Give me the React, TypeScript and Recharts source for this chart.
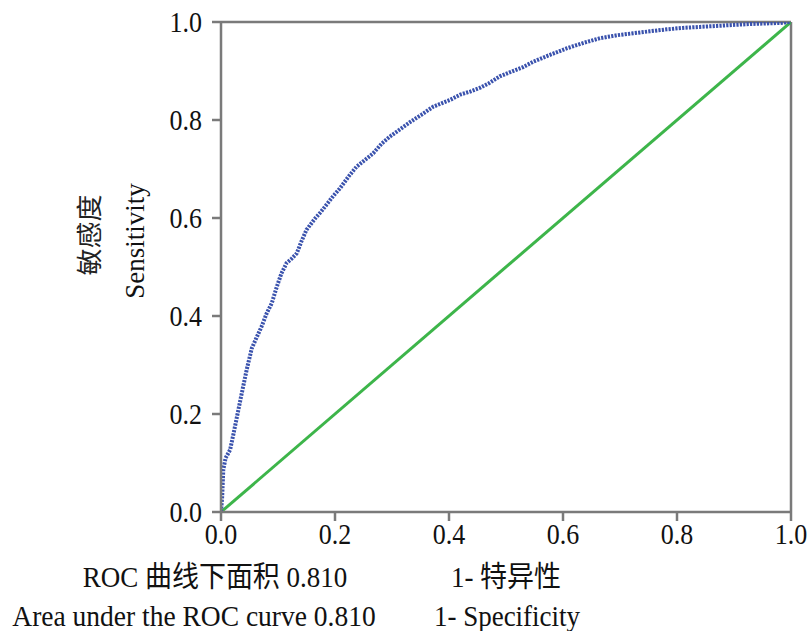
import React from "react";
import { LineChart, Line, XAxis, YAxis, ReferenceLine } from "recharts";

const fpr = [0, 0.002, 0.004, 0.008, 0.016, 0.022, 0.029, 0.036, 0.045, 0.054, 0.062, 0.071, 0.08, 0.089, 0.098, 0.106, 0.115, 0.124, 0.133, 0.141, 0.15, 0.165, 0.175, 0.185, 0.197, 0.209, 0.224, 0.238, 0.252, 0.267, 0.282, 0.296, 0.314, 0.332, 0.352, 0.372, 0.387, 0.402, 0.42, 0.437, 0.455, 0.47, 0.489, 0.51, 0.53, 0.548, 0.575, 0.606, 0.635, 0.665, 0.695, 0.723, 0.752, 0.782, 0.81, 0.84, 0.87, 0.898, 0.93, 0.957, 0.98, 1];
const tpr = [0, 0.03, 0.086, 0.11, 0.127, 0.16, 0.2, 0.24, 0.29, 0.334, 0.355, 0.378, 0.405, 0.426, 0.46, 0.487, 0.508, 0.517, 0.528, 0.552, 0.576, 0.599, 0.612, 0.627, 0.645, 0.661, 0.685, 0.705, 0.718, 0.732, 0.752, 0.766, 0.781, 0.796, 0.811, 0.827, 0.834, 0.841, 0.852, 0.858, 0.866, 0.875, 0.889, 0.899, 0.908, 0.919, 0.932, 0.946, 0.957, 0.967, 0.973, 0.977, 0.981, 0.985, 0.988, 0.99, 0.992, 0.994, 0.996, 0.997, 0.998, 1];
const refX = [0, 1];
const refY = [0, 1];
const ticks = [0, 0.2, 0.4, 0.6, 0.8, 1.0];

const yLabelCn = "敏感度";
const yLabelEn = "Sensitivity";
const aucCn = "ROC 曲线下面积 0.810";
const aucEn = "Area under the ROC curve 0.810";
const xLabelCn = "1- 特异性";
const xLabelEn = "1- Specificity";

const rocData = fpr.map((x, i) => ({ x, y: tpr[i] }));
const diagData = refX.map((x, i) => ({ x, y: refY[i] }));

const AXIS = "#7a7a7a";
const SERIF = "'Liberation Serif', 'Times New Roman', serif";
const CJK = "'Liberation Serif', 'Noto Sans CJK SC', serif";

const XTick = (props: any) => {
  const { x, y, payload } = props;
  return (
    <text
      transform={`translate(${x},${y + 23}) scale(1,1.1)`}
      textAnchor="middle"
      fontFamily={SERIF}
      fontSize={26}
      fill="#111"
    >
      {Number(payload.value).toFixed(1)}
    </text>
  );
};

const YTick = (props: any) => {
  const { x, y, payload } = props;
  return (
    <text
      transform={`translate(${x},${y + 10}) scale(1,1.1)`}
      textAnchor="end"
      fontFamily={SERIF}
      fontSize={26}
      fill="#111"
    >
      {Number(payload.value).toFixed(1)}
    </text>
  );
};

export default function App() {
  return (
    <div style={{ position: "absolute", left: 0, top: 0, width: 809, height: 631, background: "#fff" }}>
      <LineChart width={809} height={631} margin={{ top: 22, right: 18, bottom: 0, left: 0 }}>
        <XAxis
          type="number"
          dataKey="x"
          domain={[0, 1]}
          ticks={ticks}
          height={119}
          stroke={AXIS}
          strokeWidth={2.5}
          tickSize={9}
          tickMargin={0}
          tick={<XTick />}
          allowDataOverflow
        />
        <YAxis
          type="number"
          dataKey="y"
          domain={[0, 1]}
          ticks={ticks}
          width={221}
          stroke={AXIS}
          strokeWidth={2.5}
          tickSize={9}
          tickMargin={10}
          tick={<YTick />}
          allowDataOverflow
        />
        <ReferenceLine y={1} stroke={AXIS} strokeWidth={2.5} />
        <ReferenceLine x={1} stroke={AXIS} strokeWidth={2.5} />
        <Line
          data={diagData}
          dataKey="y"
          type="linear"
          stroke="#3db54a"
          strokeWidth={3}
          dot={false}
          isAnimationActive={false}
        />
        <Line
          data={rocData}
          dataKey="y"
          type="linear"
          stroke="#3a52ad"
          strokeWidth={4}
          strokeDasharray="2.2 1.2"
          dot={false}
          isAnimationActive={false}
        />
      </LineChart>
      <svg
        width={809}
        height={631}
        style={{ position: "absolute", left: 0, top: 0, pointerEvents: "none" }}
      >
        <text
          transform="translate(99,235) rotate(-90) scale(1,0.95)"
          textAnchor="middle"
          fontFamily={CJK}
          fontSize={27}
          fill="#222"
        >
          {yLabelCn}
        </text>
        <text
          transform="translate(144,241) rotate(-90)"
          textAnchor="middle"
          fontFamily={SERIF}
          fontSize={27}
          fill="#111"
        >
          {yLabelEn}
        </text>
        <text transform="translate(215,587) scale(1,1.08)" textAnchor="middle" fontFamily={CJK} fontSize={27} fill="#111">
          {aucCn}
        </text>
        <text transform="translate(506,587) scale(1,1.08)" textAnchor="middle" fontFamily={CJK} fontSize={27} fill="#111">
          {xLabelCn}
        </text>
        <text transform="translate(194,626) scale(1,1.08)" textAnchor="middle" fontFamily={SERIF} fontSize={27.5} fill="#111">
          {aucEn}
        </text>
        <text transform="translate(507,626) scale(1,1.08)" textAnchor="middle" fontFamily={SERIF} fontSize={27} fill="#111">
          {xLabelEn}
        </text>
      </svg>
    </div>
  );
}
